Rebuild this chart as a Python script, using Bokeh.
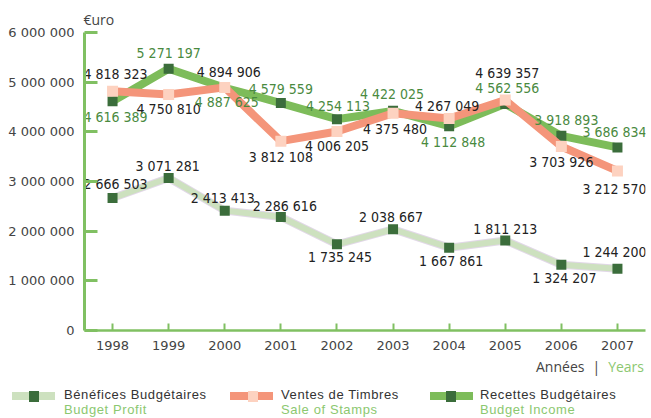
from bokeh.plotting import figure
from bokeh.models import FixedTicker, Range1d, ColumnDataSource, Div
from bokeh.layouts import column
from bokeh.embed import file_html
from bokeh.resources import INLINE
from bokeh.core.properties import value

# ---------------- data ----------------
years = [1998, 1999, 2000, 2001, 2002, 2003, 2004, 2005, 2006, 2007]
profit = [2666503, 3071281, 2413413, 2286616, 1735245, 2038667, 1667861, 1811213, 1324207, 1244200]
stamps = [4818323, 4750810, 4894906, 3812108, 4006205, 4375480, 4267049, 4639357, 3703926, 3212570]
income = [4616389, 5271197, 4887625, 4579559, 4254113, 4422025, 4112848, 4562556, 3918893, 3686834]
y_ticks = [0, 1000000, 2000000, 3000000, 4000000, 5000000, 6000000]
series_fr = ["Bénéfices Budgétaires", "Ventes de Timbres", "Recettes Budgétaires"]
series_en = ["Budget Profit", "Sale of Stamps", "Budget Income"]
unit_label = "€uro"
axis_fr, axis_en = "Années", "Years"

# label placement (pixels: dx right, dy down)
profit_dx = [3, -1, -2, 4, 3, -2, 2, 0, 3, -3]
profit_dy = [-14, -12, -13, -11, 13, -12, 13, -12, 13, -17]
stamps_dx = [3, 0, 4, 0, 0, 2, -2, 2, 0, -3]
stamps_dy = [-17, 14, -15, 16, 14, 16, -13, -27, 15, 18]
income_dx = [3, 0, 2, 0, 1, -1, 4, 2, 5, -3]
income_dy = [16, -16, 14, -14, -13, -17, 16, -16, -16, -15]


def fmt(v):
    return f"{v:,}".replace(",", " ")


AXIS_GREEN = "#80c062"
LIGHT_GREEN_TXT = "#8cc870"
DARK_SQ = "#3b6d3b"
INCOME_LINE = "#7dbc5a"
STAMP_LINE = "#f4957a"
STAMP_SQ = "#fdd2c0"
PROFIT_LINE = "#cde1bf"
LABEL_FONT = value("DejaVu Sans Condensed, Liberation Sans Narrow, Roboto Condensed, Roboto")
TICK_FONT = "DejaVu Sans"

p = figure(width=650, height=356, x_range=Range1d(1997.5, 2007.5), y_range=Range1d(0, 6000000),
           output_backend="svg", toolbar_location=None,
           min_border_left=84, min_border_right=5, min_border_top=32, min_border_bottom=26)
p.outline_line_color = None
p.grid.visible = False
p.background_fill_color = "white"
p.border_fill_color = "white"

p.title.text = unit_label
p.title.align = "left"
p.title.text_font = "Open Sans"
p.title.text_font_size = "14px"
p.title.text_font_style = "normal"
p.title.text_color = "#444444"
p.title.standoff = 8
p.title.offset = -1

# axes
p.yaxis.ticker = FixedTicker(ticks=y_ticks)
p.yaxis.major_label_overrides = {t: fmt(t) for t in y_ticks}
p.xaxis.ticker = FixedTicker(ticks=years)
p.xaxis.major_label_overrides = {y: str(y) for y in years}
for ax in (p.xaxis, p.yaxis):
    ax.axis_line_color = AXIS_GREEN
    ax.major_tick_line_color = AXIS_GREEN
    ax.minor_tick_line_color = None
    ax.major_tick_out = 0
    ax.major_label_text_font = TICK_FONT
    ax.major_label_text_font_size = "13px"
    ax.major_label_text_color = "#444444"
p.yaxis.axis_line_width = 3
p.yaxis.major_tick_line_width = 3
p.yaxis.major_tick_in = 13
p.yaxis.major_label_standoff = 10
p.xaxis.axis_line_width = 2.5
p.xaxis.major_tick_line_width = 2
p.xaxis.major_tick_in = 7
p.xaxis.major_label_standoff = 10

# profit series
p.line(years, profit, line_color="#e2d8e8", line_width=8)
p.line(years, profit, line_color=PROFIT_LINE, line_width=6)
p.scatter(years, profit, marker="square", size=10, fill_color=DARK_SQ, line_color=None)

# income series
p.line(years, income, line_color=INCOME_LINE, line_width=8)
p.scatter(years, income, marker="square", size=10, fill_color=DARK_SQ, line_color=None)

# stamps series
p.line(years, stamps, line_color=STAMP_LINE, line_width=8)
p.scatter(years, stamps, marker="square", size=11, fill_color=STAMP_SQ, line_color=None)

# value labels
for vals, dx, dy, col in ((profit, profit_dx, profit_dy, "#222222"),
                          (stamps, stamps_dx, stamps_dy, "#222222"),
                          (income, income_dx, income_dy, "#4a8a3f")):
    src = ColumnDataSource(dict(x=years, y=vals, t=[fmt(v) for v in vals], dx=dx, dy=dy))
    p.text(x="x", y="y", text="t", x_offset="dx", y_offset="dy", source=src,
           text_align="center", text_baseline="middle", text_font=LABEL_FONT,
           text_font_size="14px", text_color=col)

# bottom block: axis caption + legend (HTML)
line_cols = [PROFIT_LINE, STAMP_LINE, INCOME_LINE]
sq_cols = [DARK_SQ, STAMP_SQ, DARK_SQ]
sw_left = [12, 230, 430]
sq_left = [29, 248, 446]
tx_left = [64, 281, 480]
LEG_FONT = "font:13px 'Liberation Sans';letter-spacing:0.6px;line-height:15px;white-space:nowrap"
parts = []
parts.append(
    f'<div style="position:absolute;right:6px;top:3px;font:14px \'Open Sans\';line-height:16px;'
    f'color:#444;white-space:nowrap">{axis_fr}<span style="margin:0 8px">|</span>'
    f'<span style="color:{LIGHT_GREEN_TXT}">{axis_en}</span></div>')
for i in range(3):
    parts.append(f'<div style="position:absolute;left:{sw_left[i]}px;top:36px;width:43px;height:8px;'
                 f'background:{line_cols[i]}"></div>')
    parts.append(f'<div style="position:absolute;left:{sq_left[i]}px;top:35px;width:10px;height:11px;'
                 f'background:{sq_cols[i]}"></div>')
    parts.append(f'<div style="position:absolute;left:{tx_left[i]}px;top:31px;{LEG_FONT};color:#333">'
                 f'{series_fr[i]}<br><span style="color:{LIGHT_GREEN_TXT}">{series_en[i]}</span></div>')
html = '<div style="position:relative;width:650px;height:62px;overflow:hidden">' + "".join(parts) + "</div>"
div = Div(text=html, width=650, height=62, margin=0)

layout = column(p, div, spacing=0)
open("out.html", "w").write(file_html(layout, INLINE))
